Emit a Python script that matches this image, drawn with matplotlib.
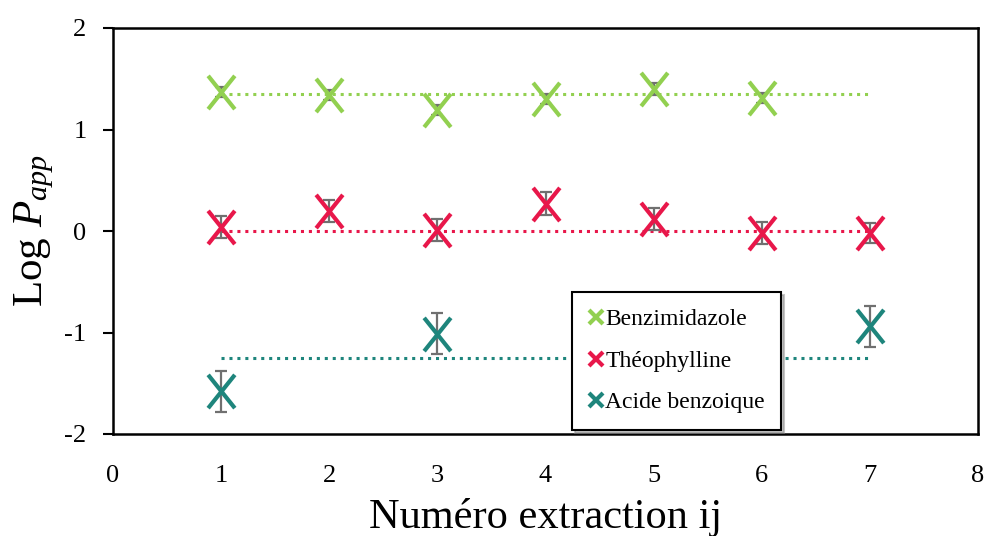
import matplotlib.pyplot as plt
from matplotlib.lines import Line2D
from matplotlib.path import Path

plt.rcParams['font.family'] = ['Liberation Serif', 'DejaVu Serif']
plt.rcParams['mathtext.fontset'] = 'custom'
plt.rcParams['mathtext.rm'] = 'Liberation Serif'
plt.rcParams['mathtext.it'] = 'Liberation Serif:italic'
plt.rcParams['axes.unicode_minus'] = False

# Data
benz_x = [1, 2, 3, 4, 5, 6]
benz_y = [1.37, 1.34, 1.19, 1.30, 1.40, 1.31]
benz_err = [0.05, 0.05, 0.05, 0.05, 0.06, 0.05]
benz_mean = 1.35

theo_x = [1, 2, 3, 4, 5, 6, 7]
theo_y = [0.04, 0.20, 0.01, 0.27, 0.12, -0.02, -0.02]
theo_err = [0.11, 0.11, 0.11, 0.11, 0.11, 0.11, 0.10]
theo_mean = 0.0

acid_x = [1, 3, 7]
acid_y = [-1.58, -1.01, -0.94]
acid_err = [0.20, 0.20, 0.20]
acid_mean = -1.25

labels = ["Benzimidazole", "Théophylline", "Acide benzoique"]
colors = ["#92D050", "#E8174A", "#1E857C"]
line_span = [1, 7]

# slightly tall cross, like the Excel marker
cross = Path([(-0.8, -1), (0.8, 1), (-0.8, 1), (0.8, -1)],
             [Path.MOVETO, Path.LINETO, Path.MOVETO, Path.LINETO])

fig = plt.figure(figsize=(9.87, 5.36), dpi=100)
ax = fig.add_axes([113 / 987, 1 - 434 / 536, 865 / 987, 406 / 536])

series = [(benz_x, benz_y, benz_err, benz_mean),
          (theo_x, theo_y, theo_err, theo_mean),
          (acid_x, acid_y, acid_err, acid_mean)]

for (xs, ys, errs, mean), c in zip(series, colors):
    ax.plot(line_span, [mean, mean], linestyle=(0, (1, 1.6)), color=c, lw=2.2, zorder=1)
    ax.errorbar(xs, ys, yerr=errs, fmt='none', ecolor='#707070', elinewidth=1.6,
                capsize=4, capthick=1.6, zorder=2)
    ax.plot(xs, ys, linestyle='none', marker=cross, markersize=24, mew=3,
            color=c, zorder=3)

ax.set_xlim(0, 8)
ax.set_ylim(-2, 2)
ax.set_xticks(range(0, 9))
ax.set_yticks([-2, -1, 0, 1, 2])
ax.tick_params(labelsize=19, width=1.5)
ax.tick_params(axis='y', length=7, pad=12)
ax.tick_params(axis='x', length=0, pad=22)
for s in ax.spines.values():
    s.set_linewidth(1.8)

ax.set_xlabel("Numéro extraction ij", fontsize=30.5, labelpad=8)
ax.set_ylabel("Log $P_{app}$", fontsize=31, labelpad=6)

handles = [Line2D([], [], linestyle='none', marker='x', markersize=10, mew=3, color=c)
           for c in colors]
leg = ax.legend(handles, labels, loc='lower left', bbox_to_anchor=(0.517, -0.019),
                fontsize=17, frameon=True, fancybox=False,
                shadow={'color': '0.55', 'alpha': 0.5},
                edgecolor='black', labelspacing=0.85, handlelength=0.6,
                handletextpad=0.1, borderpad=0.7)
leg.get_frame().set_linewidth(1.5)

fig.savefig("out.png", dpi=100)
